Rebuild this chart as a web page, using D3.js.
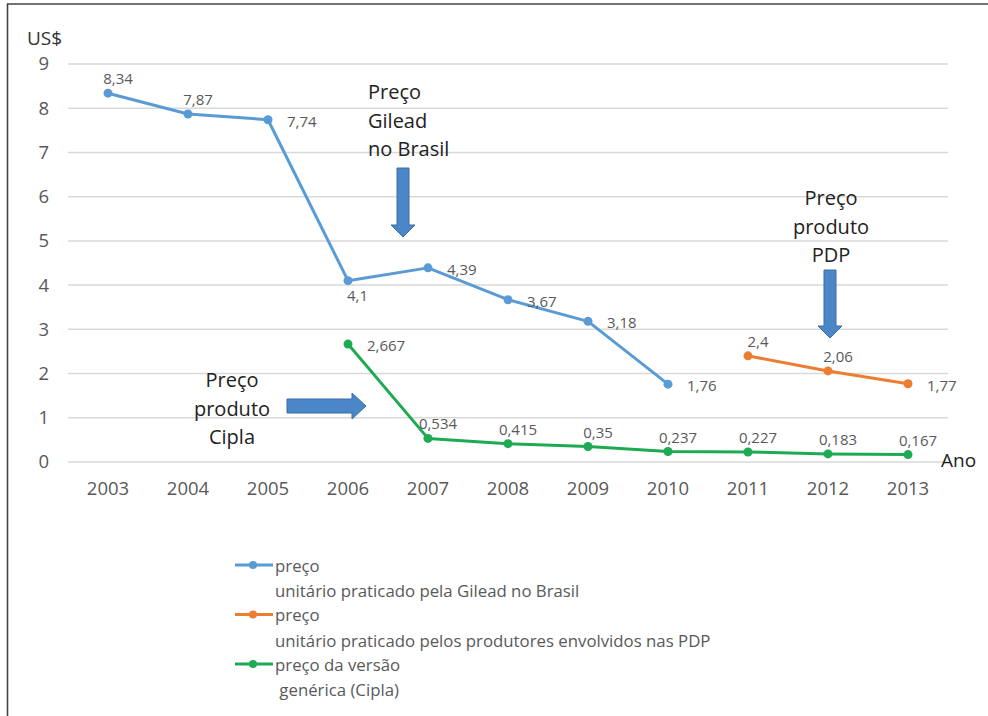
<!DOCTYPE html>
<html>
<head>
<meta charset="utf-8">
<script src="https://cdn.jsdelivr.net/npm/d3@7"></script>
<style>
  body { margin: 0; background: #fff; }
  svg { display: block; font-family: "Open Sans", sans-serif; }
</style>
</head>
<body>
<svg id="chart" width="988" height="716"></svg>
<script>
// Data
const years = [2003, 2004, 2005, 2006, 2007, 2008, 2009, 2010, 2011, 2012, 2013];
const gileadPrices = [8.34, 7.87, 7.74, 4.1, 4.39, 3.67, 3.18, 1.76, null, null, null];
const pdpPrices = [null, null, null, null, null, null, null, null, 2.4, 2.06, 1.77];
const ciplaPrices = [null, null, null, 2.667, 0.534, 0.415, 0.35, 0.237, 0.227, 0.183, 0.167];
const yTicks = [0, 1, 2, 3, 4, 5, 6, 7, 8, 9];
const seriesNames = [
  ["preço", "unitário praticado pela Gilead no Brasil"],
  ["preço", "unitário praticado pelos produtores envolvidos nas PDP"],
  ["preço da versão", " genérica (Cipla)"]
];

// Layout
const plot = { left: 68, right: 948, top: 64, bottom: 462 };
const gray = "#595959";

const series = [
  { values: gileadPrices, color: "#5b9bd5", name: seriesNames[0],
    place: ["above", "above", "right", "below", "right", "right", "right", "right"] },
  { values: pdpPrices, color: "#ed7d31", name: seriesNames[1],
    place: [null, null, null, null, null, null, null, null, "above", "above", "right"] },
  { values: ciplaPrices, color: "#1eaa52", name: seriesNames[2],
    place: [null, null, null, "right", "above", "above", "above", "above", "above", "above", "above"] }
];

const svg = d3.select("#chart");

// frame (left and top edge only)
svg.append("path")
  .attr("d", "M7.5,716 V4 H988")
  .attr("fill", "none")
  .attr("stroke", "#444")
  .attr("stroke-width", 1.6);

const x = d3.scaleBand().domain(years).range([plot.left, plot.right]);
const y = d3.scaleLinear().domain([0, 9]).range([plot.bottom, plot.top]);
const cx = d => x(d) + x.bandwidth() / 2;

// grid lines
svg.append("g")
  .selectAll("line")
  .data(yTicks)
  .join("line")
  .attr("x1", plot.left)
  .attr("x2", plot.right)
  .attr("y1", d => y(d))
  .attr("y2", d => y(d))
  .attr("stroke", "#d9d9d9")
  .attr("stroke-width", 1.5);

// axes
const gy = svg.append("g")
  .attr("transform", `translate(${plot.left},0)`)
  .call(d3.axisLeft(y).tickValues(yTicks).tickSize(0).tickPadding(19));
const gx = svg.append("g")
  .attr("transform", `translate(0,${plot.bottom})`)
  .call(d3.axisBottom(x).tickSize(0).tickPadding(20));
[gx, gy].forEach(g => {
  g.select(".domain").remove();
  g.selectAll("text")
    .attr("fill", gray)
    .style("font-size", "18.5px")
    .style("font-family", "Open Sans, sans-serif");
});

svg.append("text")
  .attr("x", 27).attr("y", 45)
  .attr("fill", "#333")
  .style("font-size", "19px")
  .text("US$");

svg.append("text")
  .attr("x", 941).attr("y", 467)
  .attr("fill", "#222")
  .style("font-size", "19px")
  .text("Ano");

// lines, markers and labels
const line = d3.line()
  .defined(d => d.v !== null)
  .x(d => cx(d.year))
  .y(d => y(d.v));

const fmt = v => String(v).replace(".", ",");

series.forEach(s => {
  const pts = years.map((year, i) => ({ year, v: s.values[i], place: s.place[i] }));
  const valid = pts.filter(d => d.v !== null);

  svg.append("path")
    .datum(pts)
    .attr("d", line)
    .attr("fill", "none")
    .attr("stroke", s.color)
    .attr("stroke-width", 3)
    .attr("stroke-linejoin", "round");

  svg.append("g")
    .selectAll("circle")
    .data(valid)
    .join("circle")
    .attr("cx", d => cx(d.year))
    .attr("cy", d => y(d.v))
    .attr("r", 4.5)
    .attr("fill", s.color);

  svg.append("g")
    .selectAll("text")
    .data(valid)
    .join("text")
    .attr("x", d => cx(d.year) + (d.place === "above" ? 10 : d.place === "right" ? 19 : -1))
    .attr("y", d => y(d.v) + (d.place === "above" ? -15 : d.place === "right" ? 1 : 14))
    .attr("text-anchor", d => d.place === "above" ? "middle" : "start")
    .attr("dominant-baseline", "central")
    .attr("fill", gray)
    .style("font-size", "15px")
    .text(d => fmt(d.v));
});

// annotations with block arrows
const arrowFill = "#4a86c8", arrowStroke = "#3b6ea5";

function note(lines, xPos, yStart, anchor) {
  svg.append("g")
    .selectAll("text")
    .data(lines)
    .join("text")
    .attr("x", xPos)
    .attr("y", (d, i) => yStart + i * 28.5)
    .attr("text-anchor", anchor)
    .attr("fill", "#222")
    .style("font-size", "20px")
    .text(d => d);
}

function downArrow(xc, top, tip) {
  const sw = 6, hw = 12, headTop = tip - 12;
  svg.append("path")
    .attr("d", `M${xc - sw},${top} H${xc + sw} V${headTop} H${xc + hw} L${xc},${tip} L${xc - hw},${headTop} H${xc - sw} Z`)
    .attr("fill", arrowFill)
    .attr("stroke", arrowStroke)
    .attr("stroke-width", 1);
}

function rightArrow(left, yc, tip) {
  const sh = 7, hh = 13, headLeft = tip - 14;
  svg.append("path")
    .attr("d", `M${left},${yc - sh} H${headLeft} V${yc - hh} L${tip},${yc} L${headLeft},${yc + hh} V${yc + sh} H${left} Z`)
    .attr("fill", arrowFill)
    .attr("stroke", arrowStroke)
    .attr("stroke-width", 1);
}

note(["Preço", "Gilead", "no Brasil"], 368, 99, "start");
downArrow(403, 168, 237);

note(["Preço", "produto", "PDP"], 831, 205, "middle");
downArrow(830, 270, 338);

note(["Preço", "produto", "Cipla"], 232, 387, "middle");
rightArrow(287, 406, 366);

// legend
const legend = svg.append("g");
series.forEach((s, i) => {
  const yRow = 565 + i * 49.5;
  legend.append("line")
    .attr("x1", 235).attr("x2", 273)
    .attr("y1", yRow).attr("y2", yRow)
    .attr("stroke", s.color)
    .attr("stroke-width", 3);
  legend.append("circle")
    .attr("cx", 253).attr("cy", yRow).attr("r", 4)
    .attr("fill", s.color);
  legend.selectAll(null)
    .data(s.name)
    .join("text")
    .attr("x", 275)
    .attr("y", (d, j) => yRow + j * 25.5)
    .attr("dominant-baseline", "central")
    .attr("fill", gray)
    .style("font-size", "16.8px")
    .style("white-space", "pre")
    .attr("xml:space", "preserve")
    .text(d => d);
});
</script>
</body>
</html>
